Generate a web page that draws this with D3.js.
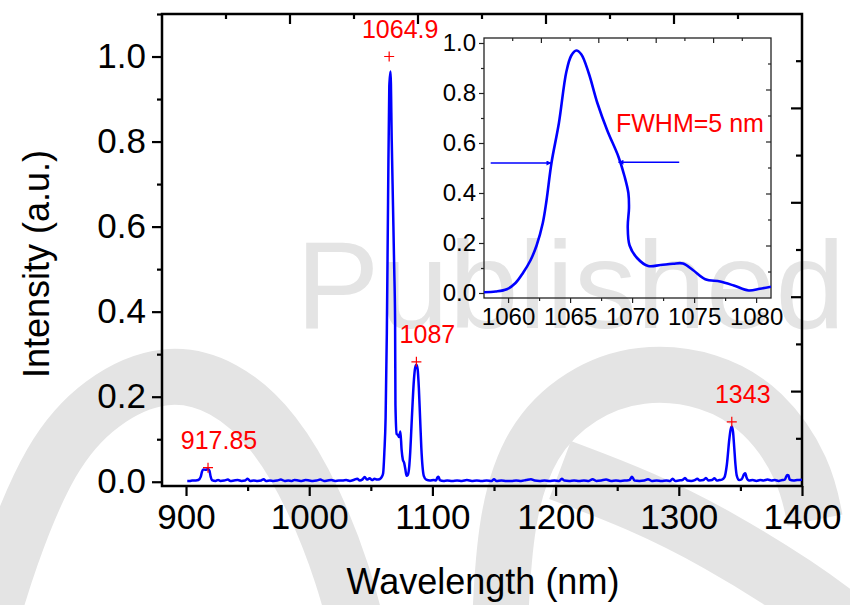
<!DOCTYPE html>
<html>
<head>
<meta charset="utf-8">
<script src="https://cdn.jsdelivr.net/npm/d3@7"></script>
<style>
  body { margin: 0; background: #fff; }
  text { font-family: "Liberation Sans", Arial, Helvetica, sans-serif; }
</style>
</head>
<body>
<div id="vis"></div>
<script>
var width = 850;
var height = 605;
var chart, vis;

// main spectrum: wavelength (nm) and normalized intensity
const mainWl = [901, 903, 905, 908, 910, 912, 913, 914, 916, 918, 919, 920, 921, 924, 926, 928, 931, 934, 936, 939,
  942, 945, 948, 950, 952, 955, 958, 961, 963, 965, 968, 971, 974, 977, 980, 983, 986, 988, 991, 994,
  997, 1000, 1003, 1006, 1009, 1012, 1015, 1018, 1021, 1024, 1027, 1030, 1033, 1036, 1039, 1041, 1043, 1045, 1047, 1049,
  1051, 1053, 1055, 1057, 1058, 1059, 1060, 1061, 1062, 1063, 1064, 1065, 1066, 1067, 1068, 1069, 1069.7, 1070, 1071, 1072,
  1073, 1074, 1075, 1076, 1077, 1078, 1079, 1080, 1081, 1082, 1083, 1084, 1085, 1086, 1087, 1088, 1089, 1090, 1091, 1092,
  1093, 1095, 1098, 1101, 1103, 1104, 1105, 1106, 1109, 1112, 1116, 1120, 1124, 1128, 1132, 1136, 1140, 1144, 1148, 1150,
  1152, 1156, 1160, 1164, 1168, 1172, 1176, 1180, 1183, 1187, 1191, 1195, 1199, 1203, 1205, 1207, 1211, 1215, 1219, 1223,
  1227, 1230, 1233, 1237, 1241, 1245, 1249, 1253, 1257, 1260, 1262, 1264, 1268, 1272, 1275, 1278, 1282, 1286, 1290, 1293,
  1295, 1297, 1300, 1303, 1305, 1307, 1310, 1313, 1315, 1317, 1320, 1322, 1324, 1327, 1329, 1331, 1333, 1335, 1337, 1339,
  1341, 1342, 1343, 1344, 1345, 1346, 1347, 1349, 1351, 1353, 1354, 1355, 1357, 1360, 1363, 1366, 1369, 1372, 1375, 1378,
  1381, 1384, 1386, 1388, 1389, 1390, 1393, 1396, 1400];
const mainInt = [0.002, 0.002, 0.003, 0.003, 0.004, 0.012, 0.024, 0.029, 0.028, 0.030, 0.026, 0.012, 0.004, 0.002, 0.004, 0.002, 0.003, 0.005, 0.002, 0.003,
  0.004, 0.002, 0.003, 0.007, 0.002, 0.003, 0.002, 0.003, 0.006, 0.002, 0.003, 0.002, 0.003, 0.005, 0.002, 0.003, 0.002, 0.004, 0.003, 0.002,
  0.004, 0.003, 0.002, 0.003, 0.005, 0.002, 0.003, 0.004, 0.002, 0.003, 0.003, 0.004, 0.002, 0.004, 0.007, 0.003, 0.005, 0.011, 0.005, 0.008,
  0.004, 0.007, 0.005, 0.006, 0.008, 0.012, 0.02, 0.07, 0.15, 0.35, 0.66, 0.93, 0.965, 0.80, 0.65, 0.50, 0.38, 0.18, 0.112, 0.11,
  0.105, 0.118, 0.075, 0.052, 0.045, 0.03, 0.014, 0.016, 0.03, 0.07, 0.13, 0.19, 0.24, 0.268, 0.275, 0.265, 0.22, 0.15, 0.08, 0.035,
  0.014, 0.005, 0.003, 0.004, 0.003, 0.010, 0.012, 0.004, 0.002, 0.003, 0.002, 0.003, 0.002, 0.004, 0.002, 0.003, 0.002, 0.003, 0.002, 0.006,
  0.002, 0.003, 0.002, 0.002, 0.003, 0.002, 0.004, 0.006, 0.003, 0.002, 0.003, 0.002, 0.003, 0.002, 0.007, 0.003, 0.002, 0.003, 0.002, 0.003,
  0.002, 0.006, 0.002, 0.003, 0.005, 0.002, 0.003, 0.002, 0.003, 0.004, 0.012, 0.003, 0.002, 0.003, 0.006, 0.002, 0.003, 0.002, 0.003, 0.002,
  0.007, 0.002, 0.003, 0.004, 0.009, 0.003, 0.002, 0.004, 0.007, 0.003, 0.004, 0.009, 0.003, 0.004, 0.008, 0.003, 0.004, 0.005, 0.010, 0.04,
  0.10, 0.122, 0.13, 0.118, 0.08, 0.04, 0.015, 0.004, 0.006, 0.018, 0.02, 0.01, 0.003, 0.004, 0.002, 0.004, 0.003, 0.005, 0.003, 0.004,
  0.002, 0.004, 0.005, 0.016, 0.015, 0.005, 0.003, 0.004, 0.005];

// inset: zoom on the 1064.9 nm line
const insetWl = [1058.0, 1059.0, 1059.9, 1060.6, 1061.2, 1061.8, 1062.3, 1062.8, 1063.1, 1063.5, 1064.1, 1064.7, 1065.1, 1065.5, 1065.9,
  1066.5, 1067.2, 1068.0, 1068.9, 1069.4, 1069.7, 1069.75, 1069.65, 1069.8, 1070.4, 1071.3, 1072.3, 1073.3, 1074.1, 1074.9,
  1075.9, 1077.1, 1078.2, 1079.4, 1080.3, 1081.2];
const insetInt = [0.003, 0.006, 0.015, 0.04, 0.08, 0.13, 0.19, 0.28, 0.37, 0.52, 0.68, 0.885, 0.95, 0.97, 0.955,
  0.88, 0.76, 0.65, 0.545, 0.465, 0.40, 0.34, 0.265, 0.19, 0.14, 0.108, 0.112, 0.117, 0.118, 0.092,
  0.055, 0.046, 0.03, 0.01, 0.017, 0.025];

// labelled peaks
const peakWl = [917.85, 1064.9, 1087, 1343];
const peakInt = [0.033, 1.0, 0.282, 0.141];
const peakLabels = ["917.85", "1064.9", "1087", "1343"];

// FWHM arrows (inset units)
const fwhmLevel = [0.52, 0.523];
const fwhmFrom = [1058.6, 1073.8];
const fwhmTo = [1063.5, 1068.9];

const xTicks = [900, 1000, 1100, 1200, 1300, 1400];
const xMinor = [950, 1050, 1150, 1250, 1350];
const yTicks = [0, 0.2, 0.4, 0.6, 0.8, 1.0];
const yMinor = [0.1, 0.3, 0.5, 0.7, 0.9, 1.1];
const insetXTicks = [1060, 1065, 1070, 1075, 1080];
const insetXMinor = [1062.5, 1067.5, 1072.5, 1077.5];
const insetYTicks = [0, 0.2, 0.4, 0.6, 0.8, 1.0];
const insetYMinor = [0.1, 0.3, 0.5, 0.7, 0.9];

const BLUE = "#0000ff";
const RED = "#ff0000";
const WM = "#e4e4e4";

function init() {
  chart = d3.select("#vis").append("svg")
    .attr("width", width)
    .attr("height", height);
  vis = chart.append("g");

  drawWatermark();
  drawMain();
  drawInset();
}

function drawWatermark() {
  var wm = vis.append("g");
  var line = d3.line().curve(d3.curveBasis);
  var bands = [
    { w: 56, pts: [[-15, 640], [8, 560], [50, 455], [100, 400], [165, 370], [225, 385], [275, 430], [315, 500], [345, 580], [356, 625]] },
    { w: 56, pts: [[500, 625], [505, 520], [530, 440], [580, 393], [640, 371], [710, 378], [765, 410], [805, 470], [815, 520]] },
    { w: 62, pts: [[560, 470], [640, 500], [720, 540], [800, 590], [840, 620]] }
  ];
  bands.forEach(function (b) {
    wm.append("path")
      .attr("d", line(b.pts))
      .attr("fill", "none")
      .attr("stroke", WM)
      .attr("stroke-width", b.w);
  });
  wm.append("text")
    .attr("x", 296)
    .attr("y", 328)
    .attr("font-size", 125)
    .attr("fill", WM)
    .text("Published");
}

function drawMain() {
  var L = 162, R = 802, T = 14, B = 486;
  var x = d3.scaleLinear().domain([880.5, 1400]).range([L, R]);
  var y = d3.scaleLinear().domain([-0.01, 1.1]).range([B, T]);
  // free-standing top/right mirror ticks (10 equal steps each)
  var xTop = d3.scaleLinear().domain([0, 10]).range([L, R]);
  var yRight = d3.scaleLinear().domain([0, 10]).range([B, T]);

  chart.append("defs").append("clipPath").attr("id", "mainClip")
    .append("rect").attr("x", L).attr("y", T).attr("width", R - L).attr("height", B - T);

  var g = vis.append("g");

  // bottom axis
  g.append("g").attr("transform", "translate(0," + B + ")")
    .call(d3.axisBottom(x).tickValues(xTicks).tickSize(10).tickPadding(8).tickFormat(d3.format("d")));
  g.append("g").attr("transform", "translate(0," + B + ")")
    .call(d3.axisBottom(x).tickValues(xMinor).tickSize(5).tickFormat(""));
  // left axis
  g.append("g").attr("transform", "translate(" + L + ",0)")
    .call(d3.axisLeft(y).tickValues(yTicks).tickSize(10).tickPadding(6).tickFormat(d3.format(".1f")));
  g.append("g").attr("transform", "translate(" + L + ",0)")
    .call(d3.axisLeft(y).tickValues(yMinor).tickSize(5).tickFormat(""));
  // top mirror ticks (inward)
  g.selectAll(".ttick").data(d3.range(1, 10)).enter().append("line")
    .attr("x1", function (d) { return xTop(d); })
    .attr("x2", function (d) { return xTop(d); })
    .attr("y1", T)
    .attr("y2", function (d) { return T + (d % 2 == 0 ? 10 : 5); });
  // right mirror ticks (inward)
  g.selectAll(".rtick").data(d3.range(1, 10)).enter().append("line")
    .attr("y1", function (d) { return yRight(d); })
    .attr("y2", function (d) { return yRight(d); })
    .attr("x1", R)
    .attr("x2", function (d) { return R - (d % 2 == 0 ? 11 : 6); });

  g.selectAll("line").attr("stroke", "#000").attr("stroke-width", 2.2);
  g.selectAll(".domain").remove();
  g.selectAll(".tick text").attr("font-size", 35).attr("fill", "#000");

  g.append("rect")
    .attr("x", L).attr("y", T).attr("width", R - L).attr("height", B - T)
    .attr("fill", "none").attr("stroke", "#000").attr("stroke-width", 2.5);

  // spectrum
  var pts = mainWl.map(function (w, i) { return [w, mainInt[i]]; });
  var line = d3.line()
    .x(function (d) { return x(d[0]); })
    .y(function (d) { return y(d[1]); })
    .curve(d3.curveMonotoneX);
  vis.append("path")
    .datum(pts)
    .attr("clip-path", "url(#mainClip)")
    .attr("d", line)
    .attr("fill", "none")
    .attr("stroke", BLUE)
    .attr("stroke-width", 2.5)
    .attr("stroke-linejoin", "round");

  // peak markers + labels
  var pk = vis.append("g");
  peakWl.forEach(function (w, i) {
    var px = x(w), py = y(peakInt[i]);
    pk.append("path")
      .attr("d", "M" + (px - 5) + "," + py + "H" + (px + 5) + "M" + px + "," + (py - 5) + "V" + (py + 5))
      .attr("stroke", RED).attr("stroke-width", 1.2);
    pk.append("text")
      .attr("x", px + 11).attr("y", py - 19)
      .attr("text-anchor", "middle")
      .attr("font-size", 25)
      .attr("fill", RED)
      .text(peakLabels[i]);
  });

  // axis titles
  vis.append("text")
    .attr("x", 483).attr("y", 594)
    .attr("text-anchor", "middle")
    .attr("font-size", 36)
    .text("Wavelength (nm)");
  vis.append("text")
    .attr("transform", "translate(49,264) rotate(-90)")
    .attr("text-anchor", "middle")
    .attr("font-size", 36)
    .text("Intensity (a.u.)");
}

function drawInset() {
  var L = 484, R = 771, T = 38, B = 298;
  var x = d3.scaleLinear().domain([1058.06, 1081.2]).range([L, R]);
  var y = d3.scaleLinear().domain([-0.02, 1.02]).range([B, T]);
  var xTop = d3.scaleLinear().domain([0, 10]).range([L, R]);
  var yRight = d3.scaleLinear().domain([0, 10]).range([B, T]);

  chart.select("defs").append("clipPath").attr("id", "insetClip")
    .append("rect").attr("x", L).attr("y", T).attr("width", R - L).attr("height", B - T);

  var g = vis.append("g");
  g.append("g").attr("transform", "translate(0," + B + ")")
    .call(d3.axisBottom(x).tickValues(insetXTicks).tickSize(5).tickPadding(5).tickFormat(d3.format("d")));
  g.append("g").attr("transform", "translate(0," + B + ")")
    .call(d3.axisBottom(x).tickValues(insetXMinor).tickSize(3).tickFormat(""));
  g.append("g").attr("transform", "translate(" + L + ",0)")
    .call(d3.axisLeft(y).tickValues(insetYTicks).tickSize(5).tickPadding(3).tickFormat(d3.format(".1f")));
  g.append("g").attr("transform", "translate(" + L + ",0)")
    .call(d3.axisLeft(y).tickValues(insetYMinor).tickSize(3).tickFormat(""));
  g.selectAll(".itt").data(d3.range(1, 10)).enter().append("line")
    .attr("x1", function (d) { return xTop(d); })
    .attr("x2", function (d) { return xTop(d); })
    .attr("y1", T)
    .attr("y2", function (d) { return T + (d % 2 == 0 ? 5 : 3); });
  g.selectAll(".irt").data(d3.range(1, 10)).enter().append("line")
    .attr("y1", function (d) { return yRight(d); })
    .attr("y2", function (d) { return yRight(d); })
    .attr("x1", R)
    .attr("x2", function (d) { return R - (d % 2 == 0 ? 5 : 3); });

  g.selectAll("line").attr("stroke", "#222").attr("stroke-width", 1.2);
  g.selectAll(".domain").remove();
  g.selectAll(".tick text").attr("font-size", 24).attr("fill", "#000");
  g.append("rect")
    .attr("x", L).attr("y", T).attr("width", R - L).attr("height", B - T)
    .attr("fill", "none").attr("stroke", "#222").attr("stroke-width", 1.3);

  var pts = insetWl.map(function (w, i) { return [w, insetInt[i]]; });
  var line = d3.line()
    .x(function (d) { return x(d[0]); })
    .y(function (d) { return y(d[1]); })
    .curve(d3.curveCatmullRom.alpha(0.5));
  vis.append("path")
    .datum(pts)
    .attr("clip-path", "url(#insetClip)")
    .attr("d", line)
    .attr("fill", "none")
    .attr("stroke", BLUE)
    .attr("stroke-width", 2.6)
    .attr("stroke-linejoin", "round");

  // FWHM arrows
  chart.select("defs").append("marker")
    .attr("id", "arr")
    .attr("viewBox", "0 0 10 10")
    .attr("refX", 10).attr("refY", 5)
    .attr("markerWidth", 7).attr("markerHeight", 5)
    .attr("markerUnits", "userSpaceOnUse")
    .attr("orient", "auto")
    .append("path").attr("d", "M0,0L10,5L0,10Z").attr("fill", BLUE);
  fwhmFrom.forEach(function (f, i) {
    vis.append("line")
      .attr("x1", x(f)).attr("x2", x(fwhmTo[i]))
      .attr("y1", y(fwhmLevel[i])).attr("y2", y(fwhmLevel[i]))
      .attr("stroke", BLUE).attr("stroke-width", 1.5)
      .attr("marker-end", "url(#arr)");
  });
  vis.append("text")
    .attr("x", 616).attr("y", 132)
    .attr("font-size", 25)
    .attr("fill", RED)
    .text("FWHM=5 nm");
}

init();
</script>
</body>
</html>
